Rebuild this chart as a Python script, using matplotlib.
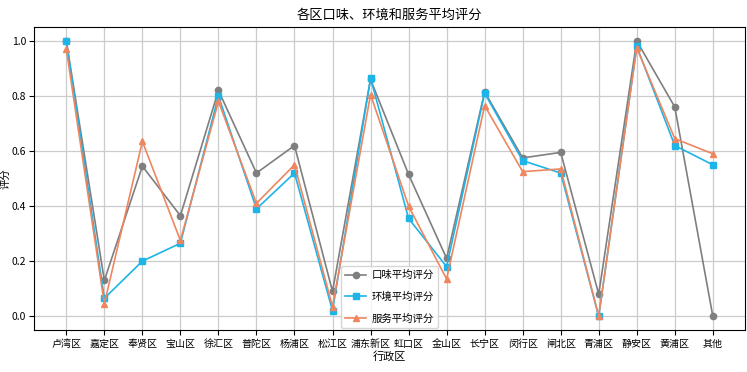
import numpy as np
import matplotlib.pyplot as plt

plt.rcParams['font.family'] = ['Noto Sans CJK SC', 'DejaVu Sans']
plt.rcParams['axes.unicode_minus'] = False

# 行政区
districts = ['卢湾区', '嘉定区', '奉贤区', '宝山区', '徐汇区', '普陀区', '杨浦区', '松江区', '浦东新区',
             '虹口区', '金山区', '长宁区', '闵行区', '闸北区', '青浦区', '静安区', '黄浦区', '其他']

taste = [1.0, 0.13, 0.545, 0.365, 0.82, 0.52, 0.62, 0.09, 0.86,
         0.515, 0.21, 0.815, 0.575, 0.595, 0.08, 1.0, 0.76, 0.0]
env = [1.0, 0.065, 0.2, 0.265, 0.80, 0.39, 0.52, 0.02, 0.865,
       0.355, 0.18, 0.81, 0.565, 0.52, 0.0, 0.98, 0.62, 0.55]
service = [0.97, 0.045, 0.635, 0.275, 0.78, 0.41, 0.55, 0.035, 0.805,
           0.40, 0.135, 0.765, 0.525, 0.535, 0.0, 0.975, 0.645, 0.59]

fig = plt.figure(figsize=(7.47, 3.72), dpi=100)
ax = fig.add_axes([0.0455, 0.113, 0.952, 0.814])

x = np.arange(len(districts))
ax.plot(x, taste, color='#7f7f7f', marker='o', markersize=4.5, linewidth=1.2, label='口味平均评分')
ax.plot(x, env, color='#1db4e8', marker='s', markersize=4.5, linewidth=1.2, label='环境平均评分')
ax.plot(x, service, color='#ee8660', marker='^', markersize=4.5, linewidth=1.2, label='服务平均评分')

ax.set_xticks(x)
ax.set_xticklabels(districts, fontsize=7.2)
ax.tick_params(axis='y', labelsize=7.5, pad=2)
ax.tick_params(axis='x', pad=3)
ax.set_title('各区口味、环境和服务平均评分', fontsize=9.5)
ax.set_xlabel('行政区', fontsize=8, labelpad=1)
ax.set_ylabel('评分', fontsize=7.5, labelpad=1)
ax.grid(True, color='#cccccc', linewidth=0.9)
ax.legend(loc='lower center', fontsize=7.5, labelspacing=1.1, borderaxespad=0.2,
          handlelength=2.0, handletextpad=0.5)

plt.savefig('out.png', dpi=100)
